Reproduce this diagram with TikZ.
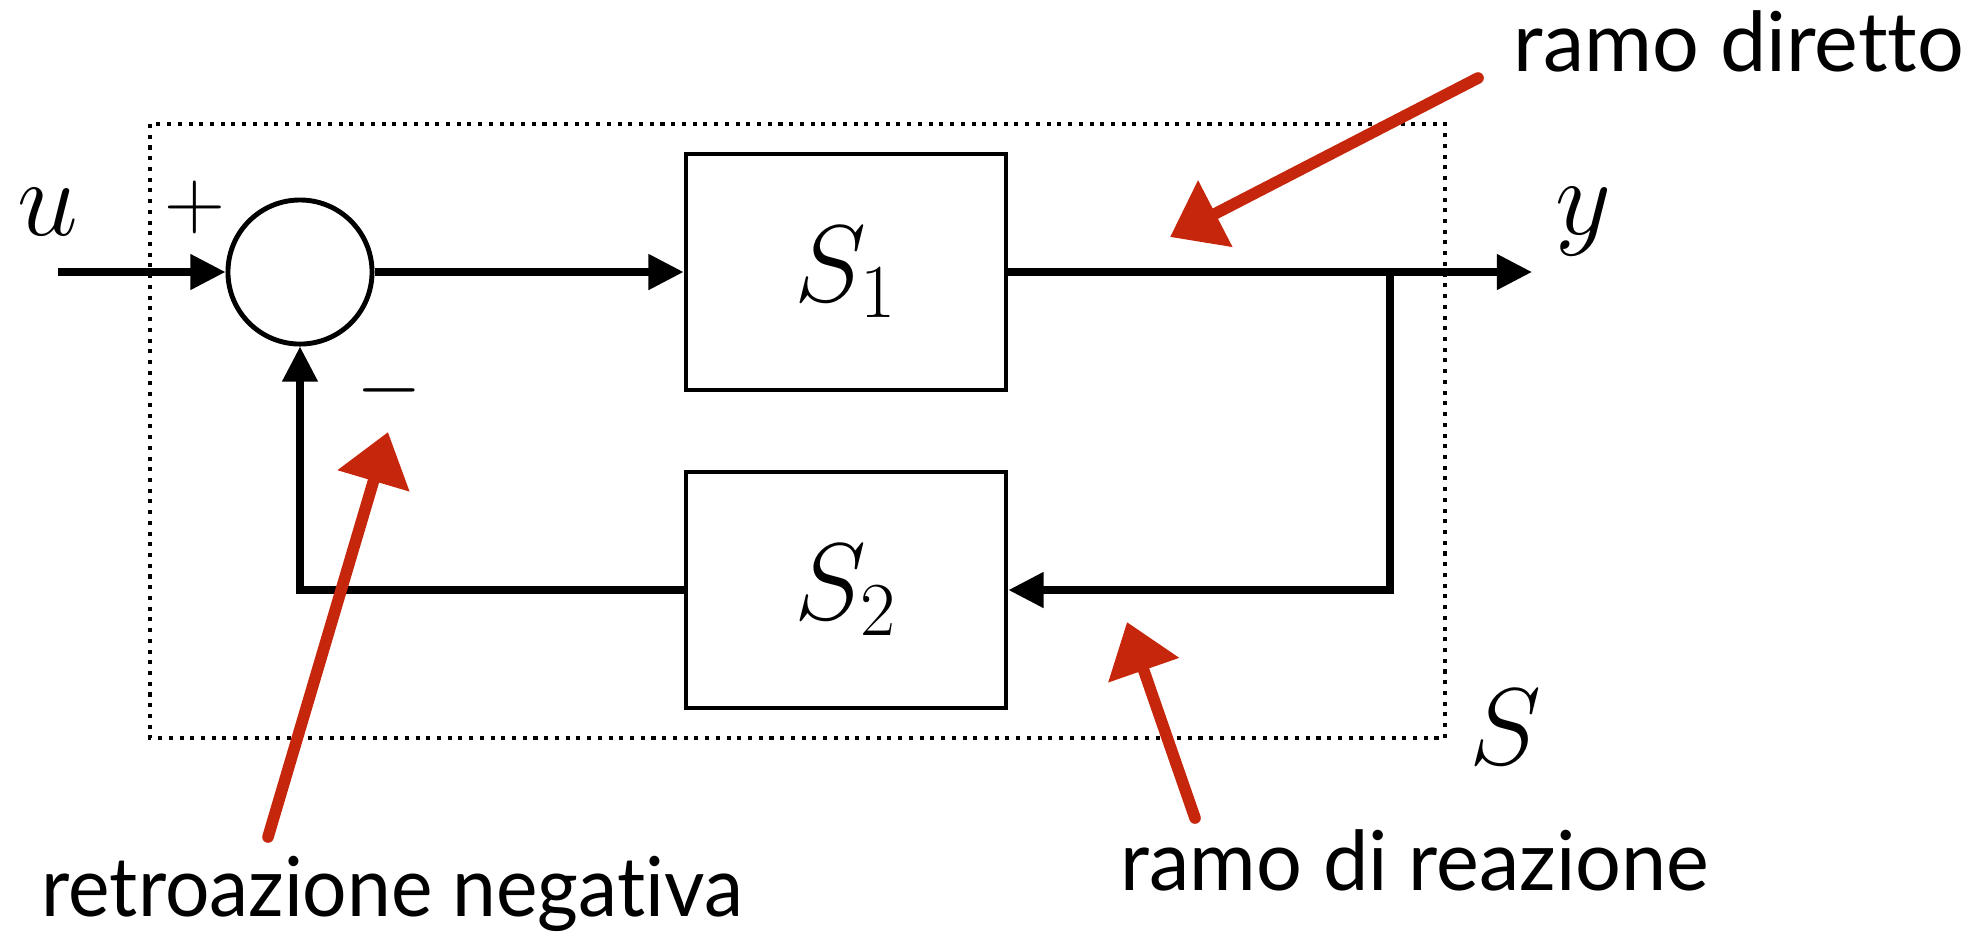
\RequirePackage{fix-cm}
\documentclass[tikz,border=0pt]{standalone}
\usepackage{fontspec}
\newfontfamily\notefont[Ligatures=NoCommon]{Lato}
\newfontfamily\notefontnarrow[Ligatures=NoCommon,FakeStretch=0.95]{Lato}
\newfontfamily\notefontsemi[Ligatures=NoCommon,FakeStretch=0.98]{Lato}
\usetikzlibrary{arrows.meta}
\definecolor{crayon}{RGB}{198,38,12}
\begin{document}
\begin{tikzpicture}[x=0.01cm,y=-0.01cm,
  wire/.style={line width=2.1pt},
  sig/.style={wire,-{Triangle[length=10pt,width=9.7pt]}},
  blk/.style={draw,line width=1.3pt,minimum width=3.2cm,minimum height=2.36cm,
    inner sep=0pt,font=\fontsize{31}{37}\selectfont},
  sumnode/.style={draw,circle,line width=1.4pt,minimum size=1.44cm,inner sep=0pt},
  mathlbl/.style={inner sep=0pt,font=\fontsize{31}{37}\selectfont},
  signlbl/.style={inner sep=0pt,font=\fontsize{24}{29}\selectfont},
  note/.style={inner sep=0pt,anchor=base west,font=\notefont\fontsize{23.5}{28}\selectfont},
  pointer/.style={crayon,line width=3.3pt,line cap=round,
    -{Triangle[length=14.5pt,width=20.5pt]}},
  frame/.style={line width=1.15pt,dash pattern=on 1.15pt off 1.9pt}
]
\useasboundingbox (0,0) rectangle (1973,935);

% system boundary
\draw[frame] (150,124) rectangle (1445,738);

% blocks
\node[sumnode] (sum) at (300,272) {};
\node[blk] (s1) at (846,272) {$S_1$};
\node[blk] (s2) at (846,590) {$S_2$};

% wiring points
\coordinate (in) at (58,272);
\coordinate (out) at (1532,272);
\coordinate (split) at (1390,272);
\coordinate (ret) at (1390,590);
\coordinate (bend) at (300,590);

\draw[sig] (in) -- (sum.west);
\draw[sig] (sum.east) -- (s1.west);
\draw[sig] (s1.east) -- (out);
\draw[sig] (split) -- (ret) -- (s2.east);
\draw[sig] (s2.west) -- (bend) -- (sum.south);

% signal labels
\node[mathlbl] (u) at (48,212) {$u$};
\node[signlbl] (plus) at (195,207) {$+$};
\node[signlbl] (minus) at (389,390) {$-$};
\node[mathlbl] (y) at (1583,222) {$y$};
\node[mathlbl] (S) at (1505,727) {$S$};

% annotations
\node[note] (n1) at (1513,71) {ramo diretto};
\node[note,font=\notefontnarrow\fontsize{23.5}{28}\selectfont] (n2) at (41,916) {retroazione negativa};
\node[note,font=\notefontsemi\fontsize{23.5}{28}\selectfont] (n3) at (1120,890) {ramo di reazione};

\coordinate (p1a) at (1478,78);  \coordinate (p1b) at (1170,237);
\coordinate (p2a) at (268,837);  \coordinate (p2b) at (388,432);
\coordinate (p3a) at (1195,818); \coordinate (p3b) at (1127,622);
\draw[pointer] (p1a) -- (p1b);
\draw[pointer] (p2a) -- (p2b);
\draw[pointer] (p3a) -- (p3b);
\end{tikzpicture}
\end{document}
